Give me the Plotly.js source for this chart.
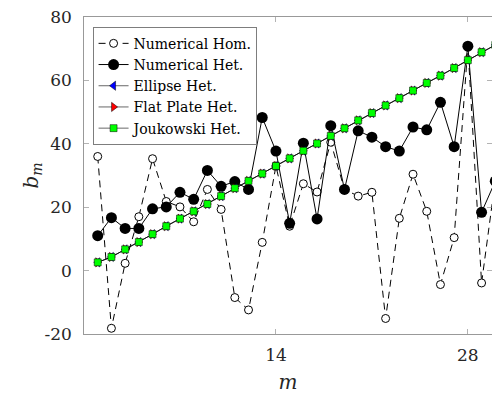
<!DOCTYPE html>
<html>
<head>
<meta charset="utf-8">
<script src="https://cdn.plot.ly/plotly-3.0.1.min.js"></script>
<style>html,body{margin:0;padding:0;background:#fff;}#chart{width:492px;height:400px;}</style>
</head>
<body>
<div id="chart"></div>
<script>
const m = [1,2,3,4,5,6,7,8,9,10,11,12,13,14,15,16,17,18,19,20,21,22,23,24,25,26,27,28,29,30];
const numHom = [36.0,-18.2,2.3,17.0,35.3,21.8,20.1,15.4,25.6,19.3,-8.5,-12.4,8.9,33.0,14.0,27.4,24.8,40.5,25.6,23.5,24.7,-15.1,16.5,30.4,18.7,-4.4,10.4,70.8,-3.9,28.5];
const numHet = [11.0,16.7,13.3,13.3,19.5,20.1,24.7,22.5,31.6,26.6,28.1,25.6,48.3,37.7,14.9,40.2,16.3,45.7,25.6,44.1,42.1,39.1,37.7,45.3,44.4,53.1,39.1,70.8,18.4,28.2];
const ellipseHet = [2.6,4.3,6.7,9.0,11.5,14.0,16.4,18.7,21.0,23.5,26.0,28.3,30.6,33.0,35.4,37.8,40.1,42.5,44.9,47.4,49.7,52.1,54.4,56.8,59.2,61.5,63.9,66.4,68.9,71.2];
const flatHet = [2.6,4.3,6.7,9.0,11.5,14.0,16.4,18.7,21.0,23.5,26.0,28.3,30.6,33.0,35.4,37.8,40.1,42.5,44.9,47.4,49.7,52.1,54.4,56.8,59.2,61.5,63.9,66.4,68.9,71.2];
const joukHet = [2.6,4.3,6.7,9.0,11.5,14.0,16.4,18.7,21.0,23.5,26.0,28.3,30.6,33.0,35.4,37.8,40.1,42.5,44.9,47.4,49.7,52.1,54.4,56.8,59.2,61.5,63.9,66.4,68.9,71.2];
const names = ['Numerical Hom.','Numerical Het.','Ellipse Het.','Flat Plate Het.','Joukowski Het.'];
const xTicks = [14, 28];
const yTicks = [-20, 0, 20, 40, 60, 80];

const traces = [
  {x: m, y: numHom, name: names[0], mode: 'lines+markers',
   line: {color: '#000', width: 1, dash: '7px,5px'},
   marker: {symbol: 'circle', size: 8, color: '#fff', line: {color: '#000', width: 1}}},
  {x: m, y: numHet, name: names[1], mode: 'lines+markers',
   line: {color: '#000', width: 1},
   marker: {symbol: 'circle', size: 11, color: '#000', line: {color: '#000', width: 0}}},
  {x: m, y: ellipseHet, name: names[2], mode: 'lines+markers',
   line: {color: '#000', width: 0.6},
   marker: {symbol: 'triangle-left', size: 8, color: '#0000ff', line: {color: '#000', width: 0.5}}},
  {x: m, y: flatHet, name: names[3], mode: 'lines+markers',
   line: {color: '#000', width: 0.6},
   marker: {symbol: 'triangle-right', size: 8, color: '#ff0000', line: {color: '#000', width: 0.5}}},
  {x: m, y: joukHet, name: names[4], mode: 'lines+markers',
   line: {color: '#000', width: 0.6},
   marker: {symbol: 'square', size: 7, color: '#00ff00', line: {color: '#000', width: 0.5}}}
];

const fontFam = 'DejaVu Serif';
const layout = {
  width: 492, height: 400,
  margin: {l: 84, r: 0, t: 17, b: 66},
  paper_bgcolor: '#fff', plot_bgcolor: '#fff',
  font: {family: fontFam, size: 17, color: '#262626'},
  showlegend: true,
  legend: {x: 0.022, y: 0.968, xanchor: 'left', yanchor: 'top',
    bgcolor: '#fff', bordercolor: '#262626', borderwidth: 0.6,
    font: {family: fontFam, size: 14, color: '#000'},
    tracegroupgap: 0, itemwidth: 30},
  xaxis: {range: [0, 29.76], tickvals: xTicks, ticktext: xTicks.map(String),
    ticks: 'inside', ticklen: 5, tickcolor: '#808080', tickwidth: 0.6,
    showline: true, linecolor: '#808080', linewidth: 0.8, mirror: 'ticks',
    showgrid: false, zeroline: false, ticklabelstandoff: 6,
    tickfont: {family: fontFam, size: 17, color: '#262626'},
    title: {text: '<i>m</i>', font: {family: fontFam, size: 20, color: '#262626'}, standoff: 10}},
  yaxis: {range: [-20, 80], tickvals: yTicks, ticktext: yTicks.map(String),
    ticks: 'inside', ticklen: 5, tickcolor: '#808080', tickwidth: 0.6,
    showline: true, linecolor: '#808080', linewidth: 0.8, mirror: 'ticks',
    showgrid: false, zeroline: false, ticklabelstandoff: 8,
    tickfont: {family: fontFam, size: 17, color: '#262626'},
    title: {text: '<i>b</i><sub><i>m</i></sub>', font: {family: fontFam, size: 20, color: '#262626'}, standoff: 0}}
};

Plotly.newPlot('chart', traces, layout, {displayModeBar: false, staticPlot: true});
</script>
</body>
</html>
